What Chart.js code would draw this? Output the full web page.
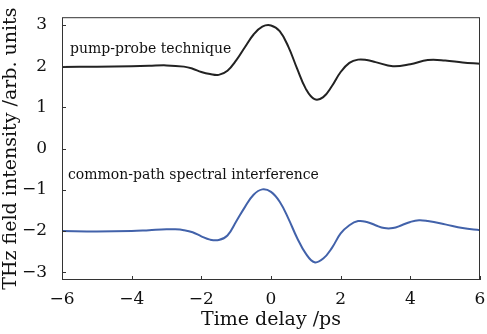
<!DOCTYPE html>
<html>
<head>
<meta charset="utf-8">
<script src="https://cdn.jsdelivr.net/npm/chart.js@4.4.1/dist/chart.umd.min.js"></script>
<style>
  body { margin: 0; background: #fff; }
  #wrap { width: 487px; height: 334px; }
</style>
</head>
<body>
<div id="wrap"><canvas id="myChart"></canvas></div>
<script>
'use strict';

// pump-probe technique (black, offset +2)
const pumpTime = [-6, -5, -4, -3.5, -3, -2.5, -2.25, -2, -1.75, -1.5, -1.25, -1, -0.75, -0.5, -0.25, 0, 0.25, 0.5, 0.75, 1, 1.25, 1.5, 1.75, 2, 2.25, 2.5, 2.75, 3, 3.5, 4, 4.5, 5, 5.5, 6];
const pumpValues = [1.98, 1.99, 2.0, 2.01, 2.02, 1.99, 1.94, 1.86, 1.81, 1.79, 1.89, 2.14, 2.46, 2.77, 2.96, 2.99, 2.85, 2.47, 1.94, 1.45, 1.20, 1.25, 1.52, 1.86, 2.08, 2.16, 2.15, 2.10, 2.0, 2.05, 2.15, 2.14, 2.09, 2.06];

// common-path spectral interference (blue, offset -2)
const cpsiTime = [-6, -5, -4, -3.5, -3, -2.75, -2.5, -2.25, -2, -1.75, -1.5, -1.25, -1, -0.75, -0.5, -0.25, 0, 0.25, 0.5, 0.75, 1, 1.25, 1.5, 1.75, 2, 2.25, 2.5, 2.75, 3, 3.25, 3.5, 3.75, 4, 4.25, 4.5, 5, 5.5, 6];
const cpsiValues = [-2.0, -2.01, -2.0, -1.98, -1.96, -1.96, -1.98, -2.03, -2.13, -2.21, -2.22, -2.11, -1.77, -1.42, -1.12, -0.99, -1.05, -1.29, -1.70, -2.17, -2.55, -2.76, -2.67, -2.41, -2.06, -1.86, -1.76, -1.78, -1.86, -1.93, -1.93, -1.86, -1.78, -1.74, -1.76, -1.84, -1.93, -1.98];

const xTicks = [-6, -4, -2, 0, 2, 4, 6];
const yTicks = [-3, -2, -1, 0, 1, 2, 3];

const labelTexts = ['pump-probe technique', 'common-path spectral interference'];
const labelAt = [[-5.77, 2.4], [-5.83, -0.65]];

const ctx = document.getElementById('myChart');

function toPoints(xs, ys) {
  let pts = [];
  for (let i = 0; i < xs.length; i++) pts.push({x: xs[i], y: ys[i]});
  return pts;
}

function minusLabel(v) {
  return v < 0 ? '\u2212' + Math.abs(v) : '' + v;
}

const frameAndTicks = {
  id: 'frameAndTicks',
  afterDatasetsDraw(chart) {
    const c = chart.ctx;
    const a = chart.chartArea;
    const xs = chart.scales.x, ys = chart.scales.y;
    c.save();
    c.strokeStyle = '#333';
    c.lineWidth = 1;
    c.strokeRect(a.left + 0.5, a.top + 0.5, a.right - a.left - 1, a.bottom - a.top - 1);
    c.beginPath();
    yTicks.forEach(v => {
      const py = Math.round(ys.getPixelForValue(v)) + 0.5;
      c.moveTo(a.left, py); c.lineTo(a.left + 4, py);
    });
    xTicks.forEach(v => {
      const px = Math.round(xs.getPixelForValue(v)) + 0.5;
      c.moveTo(px, a.bottom); c.lineTo(px, a.bottom - 4);
    });
    c.stroke();

    c.fillStyle = '#111';
    c.font = '14px "DejaVu Serif"';
    c.textBaseline = 'middle';
    c.textAlign = 'left';
    for (let i = 0; i < labelTexts.length; i++) {
      c.fillText(labelTexts[i], xs.getPixelForValue(labelAt[i][0]), ys.getPixelForValue(labelAt[i][1]));
    }
    c.restore();
  }
};

function buildChart() {
  let chartObj = {
    type: 'line',
    data: {
      datasets: [{
        label: labelTexts[0],
        data: toPoints(pumpTime, pumpValues),
        borderColor: '#222222',
        borderWidth: 2,
        pointRadius: 0,
        tension: 0.4,
        fill: false
      },
      {
        label: labelTexts[1],
        data: toPoints(cpsiTime, cpsiValues),
        borderColor: '#4262aa',
        borderWidth: 2,
        pointRadius: 0,
        tension: 0.4,
        fill: false
      }]
    },
    options: {
      responsive: true,
      maintainAspectRatio: false,
      animation: false,
      layout: { padding: { top: 7, right: 7, left: 0, bottom: 0 } },
      plugins: { legend: { display: false }, tooltip: { enabled: false } },
      scales: {
        x: {
          type: 'linear',
          min: -6,
          max: 6,
          afterBuildTicks: s => { s.ticks = xTicks.map(v => ({value: v})); },
          afterFit: s => { s.height = 54; },
          grid: { display: false },
          border: { display: false },
          ticks: {
            padding: 1,
            color: '#111',
            font: { family: 'DejaVu Serif', size: 17 },
            callback: minusLabel,
            maxRotation: 0
          },
          title: {
            display: true,
            text: 'Time delay /ps',
            color: '#111',
            font: { family: 'DejaVu Serif', size: 19 },
            padding: { top: 0, bottom: 3 }
          }
        },
        y: {
          min: -3.19,
          max: 3.19,
          afterBuildTicks: s => { s.ticks = yTicks.map(v => ({value: v})); },
          afterFit: s => { s.width = 62; },
          grid: { display: false },
          border: { display: false },
          ticks: {
            padding: 7,
            color: '#111',
            font: { family: 'DejaVu Serif', size: 17 },
            callback: minusLabel
          },
          title: {
            display: true,
            text: 'THz field intensity /arb. units',
            color: '#111',
            font: { family: 'DejaVu Serif', size: 19 },
            padding: { top: 0, bottom: 0 }
          }
        }
      }
    },
    plugins: [frameAndTicks]
  };
  new Chart(ctx, chartObj);
}

buildChart();
</script>
</body>
</html>
